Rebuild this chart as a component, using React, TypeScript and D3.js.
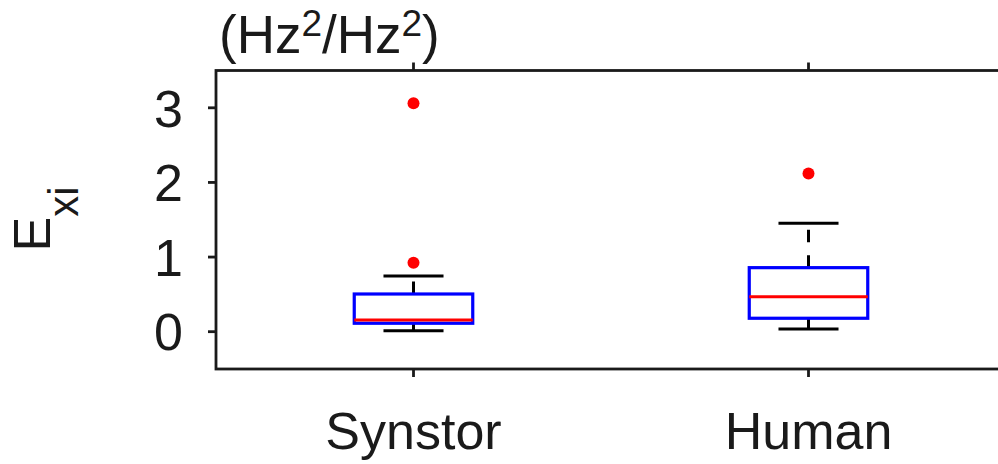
import React from "react";
import * as d3 from "d3";

const categories = ["Synstor", "Human"];
const lowerWhisker = [0.013, 0.036];
const q1 = [0.113, 0.18];
const median = [0.157, 0.469];
const q3 = [0.505, 0.858];
const upperWhisker = [0.746, 1.453];
const outliers = [[3.06, 0.925], [2.12]];
const yTicks = [0, 1, 2, 3];

const W = 998;
const H = 464;
const font = "'Liberation Sans', Arial, Helvetica, sans-serif";
const ink = "#1a1a1a";

const App = () => {
  const x = d3.scaleLinear().domain([0.5, 2.5]).range([216, 1006]);
  const y = d3.scaleLinear().domain([-0.5, 3.5]).range([369, 70.5]);

  const [x0, x1] = x.range();
  const [yb, yt] = y.range();

  return (
    <svg
      width={W}
      height={H}
      style={{ position: "absolute", left: 0, top: 0, background: "#fff" }}
      fontFamily={font}
    >
      {/* boxes */}
      {categories.map((c, i) => {
        const cx = x(i + 1);
        const bw = x(i + 1.15) - cx;
        const cw = x(i + 1.076) - cx;
        return (
          <g key={c}>
            <line x1={cx} x2={cx} y1={y(q3[i])} y2={y(upperWhisker[i])}
              stroke="#000" strokeWidth={3} strokeDasharray="12.5,13" />
            <line x1={cx} x2={cx} y1={y(q1[i])} y2={y(lowerWhisker[i])}
              stroke="#000" strokeWidth={3} strokeDasharray="12.5,13" />
            <line x1={cx - cw} x2={cx + cw} y1={y(upperWhisker[i])} y2={y(upperWhisker[i])}
              stroke="#000" strokeWidth={3} />
            <line x1={cx - cw} x2={cx + cw} y1={y(lowerWhisker[i])} y2={y(lowerWhisker[i])}
              stroke="#000" strokeWidth={3} />
            <rect x={cx - bw} width={bw * 2} y={y(q3[i])} height={y(q1[i]) - y(q3[i])}
              fill="none" stroke="#0000ff" strokeWidth={3.2} />
            <line x1={cx - bw} x2={cx + bw} y1={y(median[i])} y2={y(median[i])}
              stroke="#ff0000" strokeWidth={3} />
            {outliers[i].map((v, j) => (
              <circle key={j} cx={cx} cy={y(v)} r={6} fill="#ff0000" />
            ))}
          </g>
        );
      })}

      {/* axes frame */}
      <rect x={x0} y={yt} width={x1 - x0} height={yb - yt} fill="none" stroke={ink} strokeWidth={2.8} />
      {yTicks.map((t) => (
        <g key={t}>
          <line x1={x0 - 8} x2={x0} y1={y(t)} y2={y(t)} stroke={ink} strokeWidth={2.8} />
          <text x={183} y={y(t)} dy="0.36em" textAnchor="end" fontSize={52} fill={ink}>
            {t}
          </text>
        </g>
      ))}
      {categories.map((c, i) => (
        <g key={c}>
          <line x1={x(i + 1)} x2={x(i + 1)} y1={yb} y2={yb + 8} stroke={ink} strokeWidth={2.8} />
          <line x1={x(i + 1)} x2={x(i + 1)} y1={yt} y2={yt - 8} stroke={ink} strokeWidth={2.8} />
          <text x={x(i + 1)} y={449} textAnchor="middle" fontSize={52} fill={ink}>
            {c}
          </text>
        </g>
      ))}

      {/* y label */}
      <text transform={`translate(50,219) rotate(-90)`} textAnchor="middle" fontSize={52} fill={ink}>
        E<tspan fontSize={42} dy={28}>xi</tspan>
      </text>

      {/* units */}
      <text x={219} y={53} fontSize={53} fill={ink}>
        (Hz<tspan fontSize={37} dy={-17}>2</tspan>
        <tspan dy={17}>/Hz</tspan>
        <tspan fontSize={37} dy={-17}>2</tspan>
        <tspan dy={17}>)</tspan>
      </text>
    </svg>
  );
};

export default App;
